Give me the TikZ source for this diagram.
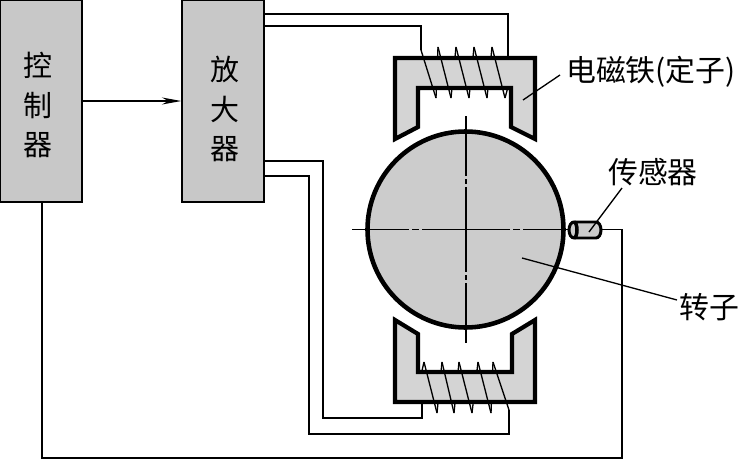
\documentclass[tikz,border=0pt]{standalone}
\usepackage{fontspec}
\setmainfont{Noto Sans CJK SC}
\usetikzlibrary{arrows.meta}
\definecolor{boxgray}{HTML}{C8C8C8}
\definecolor{coregray}{HTML}{D4D4D4}
\definecolor{rotorgray}{HTML}{CCCCCC}
\tikzset{
    blockbox/.style={rectangle, draw, fill=boxgray, line width=0.85pt, minimum width=82*0.02cm, minimum height=202*0.02cm, inner sep=0pt},
    blocktext/.style={inner sep=0pt, align=center, font=\fontsize{16.5}{22.5}\selectfont},
    wire/.style={line width=0.75pt},
    core/.style={fill=coregray, draw, line width=2.4pt, miter limit=6},
    centerline/.style={line width=1pt},
    tag/.style={inner sep=0pt, font=\fontsize{17}{20}\selectfont}
}
\begin{document}
\begin{tikzpicture}[x=0.02cm, y=-0.02cm, >={Stealth[length=11pt, width=4pt]}]
    \useasboundingbox (0,0) rectangle (738,460);
    % blocks
    \node[blockbox] (ctrl) at (41,101) {};
    \node[blocktext] (ctrltext) at (38,105) {控\\制\\器};
    \node[blockbox] (amp) at (223,101) {};
    \node[blocktext] (amptext) at (225,109) {放\\大\\器};
    % rotor
    \node[circle, draw, fill=rotorgray, line width=2.6pt, minimum size=196*0.02cm, inner sep=0pt] (rotor) at (465.5,229.5) {};
    % back half of the coils
    \draw[wire] (436,98) -- (438,47) (451,98) -- (456,47) (469,98) -- (474,47) (487,98) -- (492,47) (505,98) -- (508,87);
    \draw[wire] (493,362) -- (491,413) (478,362) -- (472,413) (459,362) -- (454,413) (442,362) -- (437,413) (424,362) -- (421,375);
    % top and bottom magnets
    \draw[core] (395,58) -- (535,58) -- (535,139) -- (511,127) -- (511,88) -- (418,88) -- (418,127) -- (395,139) -- cycle;
    \draw[core] (395,402) -- (535,402) -- (535,320) -- (512,334) -- (512,372) -- (418,372) -- (418,334) -- (395,320) -- cycle;
    % named wire ends
    \coordinate (topin) at (421,50);
    \coordinate (topout) at (508,57);
    \coordinate (botin) at (422,404);
    \coordinate (botout) at (509,410);
    \coordinate (ampa) at (amp.east |- 0,14);
    \coordinate (ampb) at (amp.east |- 0,26);
    \coordinate (ampc) at (amp.east |- 0,161);
    \coordinate (ampd) at (amp.east |- 0,176);
    \coordinate (ctrlout) at (42,202);
    % front half of the coils
    \draw[wire] (topin) -- (436,98) (438,47) -- (451,98) (456,47) -- (469,98) (474,47) -- (487,98) (492,47) -- (505,98);
    \draw[wire] (botout) -- (493,362) (491,413) -- (478,362) (472,413) -- (459,362) (454,413) -- (442,362) (437,413) -- (424,362);
    % wiring
    \draw[->, wire] (ctrl.east) -- (amp.west);
    \draw[wire] (ampa) -- (508,14) -- (topout);
    \draw[wire] (ampb) -- (421,26) -- (topin);
    \draw[wire] (ampc) -- (323,161) -- (323,418) -- (422,418) -- (botin);
    \draw[wire] (ampd) -- (309,176) -- (309,434) -- (509,434) -- (botout);
    % center lines
    \draw[centerline] (352,229.5) -- (409,229.5) (412,229.5) -- (419,229.5) (422,229.5) -- (510,229.5) (513,229.5) -- (520,229.5) (523,229.5) -- (570,229.5);
    \draw[wire] (466,116) -- (466,176) (466,179) -- (466,184) (466,187) -- (466,272) (466,275) -- (466,280) (466,283) -- (466,343);
    % sensor
    \draw[fill=rotorgray, line width=1.7pt] (574,222) -- (596,222) arc (90:-90:0.1cm and 0.16cm) -- (574,238) arc (270:90:0.1cm and 0.16cm) -- cycle;
    \draw[line width=2pt] (574,222) arc (90:-90:0.06cm and 0.16cm);
    \coordinate (sensorout) at (601,229.5);
    \draw[wire] (sensorout) -- (622,229.5) -- (622,458) -- (42,458) -- (ctrlout);
    % labels and leaders
    \node[tag] (stator) at (651,72) {电磁铁(定子)};
    \node[tag] (sensor) at (653,172) {传感器};
    \node[tag] (rotorlabel) at (709,307) {转子};
    \coordinate (coredot) at (523,100);
    \coordinate (sensordot) at (589,232);
    \coordinate (rotordot) at (522,258);
    \draw[wire] (coredot) -- (560,75);
    \draw[wire] (sensordot) -- (622,188);
    \draw[wire] (rotordot) -- (677,300);
\end{tikzpicture}
\end{document}
